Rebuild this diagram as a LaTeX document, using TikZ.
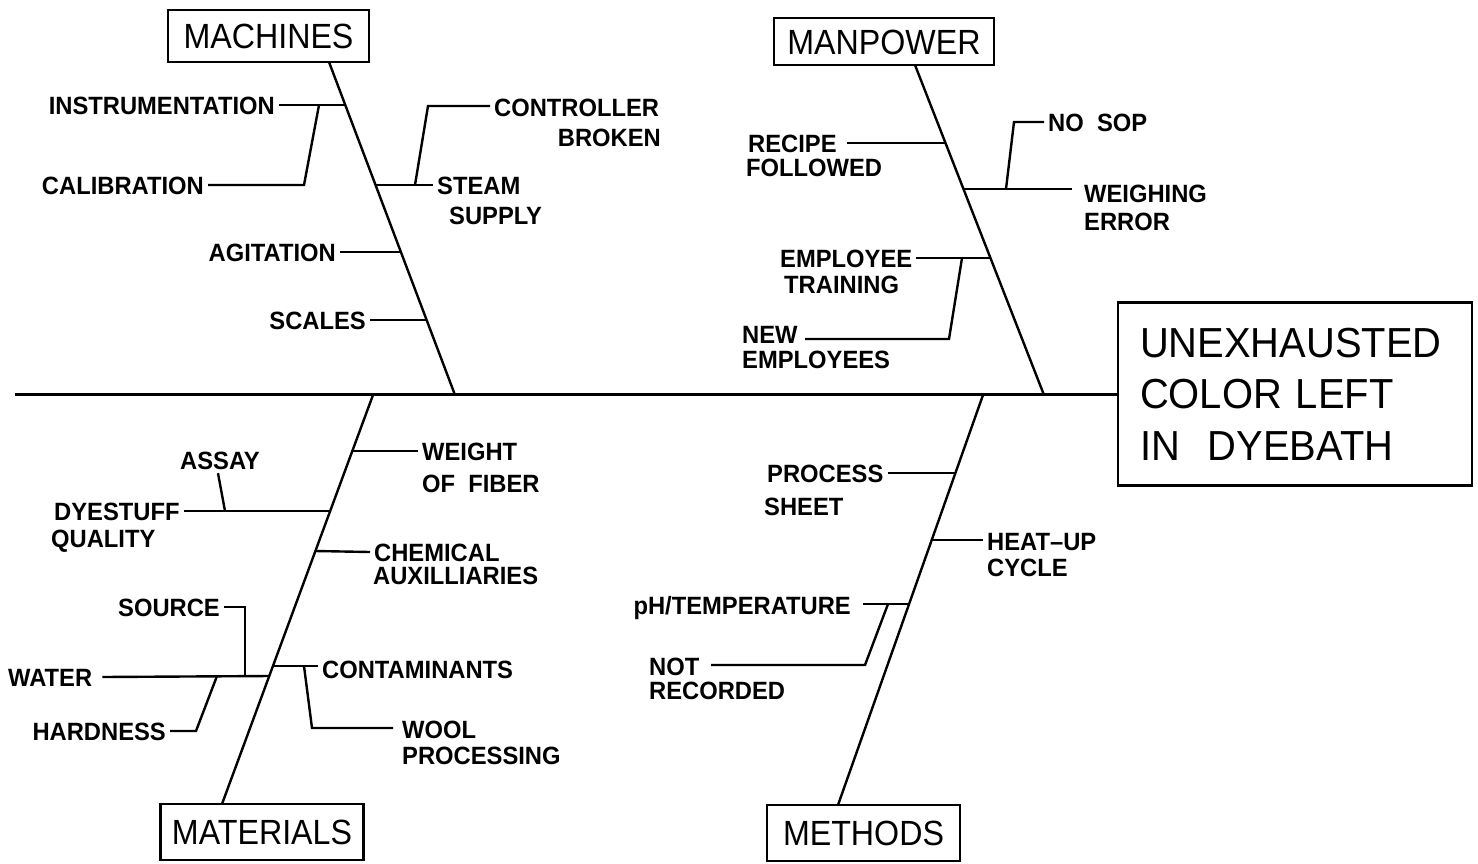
\documentclass[tikz,border=0pt]{standalone}
\usepackage{fontspec}
\newfontfamily\lblfont{Liberation Sans}[FakeStretch=0.95]
\newfontfamily\boxfont{Liberation Sans}[FakeStretch=0.92]
\newfontfamily\effectfont{Liberation Sans}[FakeStretch=0.95]
\begin{document}
\begin{tikzpicture}[x=1pt,y=-1pt,
  wire/.style={line width=2.4pt, line join=miter},
  lbl/.style={inner xsep=4pt, inner ysep=0pt, text height=18pt, text depth=0pt,
    font=\lblfont\bfseries\fontsize{25}{25}\selectfont},
  cat/.style={draw, line width=2.8pt, inner sep=0pt, text height=25pt, text depth=0pt,
    font=\boxfont\fontsize{35}{35}\selectfont},
]
\fill[white] (0,0) rectangle (1478,863);
\useasboundingbox (0,0) rectangle (1478,863);

% ---------- effect box and spine ----------
\node[draw, line width=2.8pt, minimum width=354pt, minimum height=183pt,
      inner xsep=22pt, inner ysep=0pt, text width=310pt, align=left,
      font=\effectfont\fontsize{42}{51.5}\selectfont] (effect) at (1295,394)
  {UNEXHAUSTED\\COLOR LEFT\\IN\ \ DYEBATH};
\coordinate (tail) at (15,394);
\draw[line width=3pt] (tail) -- (effect.west);

% ---------- category boxes ----------
\node[cat, minimum width=201pt, minimum height=52pt] (mach) at (268.5,36) {MACHINES};
\node[cat, minimum width=220pt, minimum height=47pt] (manp) at (884,41.5) {MANPOWER};
\node[cat, minimum width=203pt, minimum height=56pt] (mat)  at (262,832) {MATERIALS};
\node[cat, minimum width=193pt, minimum height=56pt] (meth) at (863.5,833) {METHODS};

% ---------- bones ----------
\coordinate (mA) at (329,62);   \coordinate (mB) at (455,395);
\coordinate (pA) at (915,65);   \coordinate (pB) at (1044,395);
\coordinate (tA) at (222,804);  \coordinate (tB) at (373,395);
\coordinate (hA) at (838,805);  \coordinate (hB) at (983,395);
\draw[wire] (mA) -- (mB);
\draw[wire] (pA) -- (pB);
\draw[wire] (tA) -- (tB);
\draw[wire] (hA) -- (hB);

% ---------- machines ----------
\node[lbl, anchor=east] (instr) at (279,105) {INSTRUMENTATION};
\node[lbl, anchor=east] (calib) at (208,185) {CALIBRATION};
\node[lbl, anchor=east] (agit)  at (340,252) {AGITATION};
\node[lbl, anchor=east] (scal)  at (370,320) {SCALES};
\node[lbl, anchor=west] (steam) at (433,185) {STEAM};
\node[lbl, anchor=west] (suppl) at (445,215) {SUPPLY};
\node[lbl, anchor=west] (ctrl)  at (490,107) {CONTROLLER};
\node[lbl, anchor=east] (brok)  at (665,137) {BROKEN};
\coordinate (m1) at (345.3,105);
\coordinate (m2) at (375.5,185);
\coordinate (m3) at (400.9,252);
\coordinate (m4) at (426.6,320);
\draw[wire] (instr.east) -- (m1);
\draw[wire] (calib.east) -- (304,185) -- (319,105);
\draw[wire] (agit.east) -- (m3);
\draw[wire] (scal.east) -- (m4);
\draw[wire] (m2) -- (steam.west);
\draw[wire] (415,185) -- (428,106) -- (ctrl.west |- 0,106);

% ---------- manpower ----------
\node[lbl, anchor=west] (recip) at (744,143) {RECIPE};
\node[lbl, anchor=west] (follw) at (742,167) {FOLLOWED};
\node[lbl, anchor=west] (nosop) at (1044,122) {NO\ \ SOP};
\node[lbl, anchor=west] (weigh) at (1080,193) {WEIGHING};
\node[lbl, anchor=west] (err)   at (1080,221) {ERROR};
\node[lbl, anchor=west] (emply) at (776,258) {EMPLOYEE};
\node[lbl, anchor=west] (train) at (780,284) {TRAINING};
\node[lbl, anchor=west] (newe)  at (738,334) {NEW};
\node[lbl, anchor=west] (emps)  at (738,359) {EMPLOYEES};
\coordinate (p1) at (945.5,143);
\coordinate (p2) at (963.5,189);
\coordinate (p3) at (990.4,258);
\draw[wire] (recip.east) ++(6,0) -- (p1);
\draw[wire] (p2) -- (1072,189);
\draw[wire] (1006,189) -- (1014,122) -- (nosop.west);
\draw[wire] (emply.east) -- (p3);
\draw[wire] (962,258) -- (949,339) -- (805,339);

% ---------- materials ----------
\node[lbl, anchor=west] (wght)  at (418,451) {WEIGHT};
\node[lbl, anchor=west] (fibr)  at (418,483) {OF\ \ FIBER};
\node[lbl, anchor=west] (dyes)  at (50,511) {DYESTUFF};
\node[lbl, anchor=west] (qual)  at (47,538) {QUALITY};
\node[lbl] (assay) at (220,460) {ASSAY};
\node[lbl, anchor=west] (chem)  at (370,552) {CHEMICAL};
\node[lbl, anchor=west] (aux)   at (369,575) {AUXILLIARIES};
\node[lbl, anchor=east] (src)   at (224,607) {SOURCE};
\node[lbl, anchor=west] (water) at (4,677) {WATER};
\node[lbl, anchor=east] (hard)  at (170,731) {HARDNESS};
\node[lbl, anchor=west] (cont)  at (318,669) {CONTAMINANTS};
\node[lbl, anchor=west] (wool)  at (398,729) {WOOL};
\node[lbl, anchor=west] (proc)  at (398,755) {PROCESSING};
\coordinate (t1) at (352.4,451);
\coordinate (t2) at (330.3,511);
\coordinate (t3) at (315.5,551);
\coordinate (t4) at (273.2,666);
\coordinate (t5) at (269.5,676);
\coordinate (dq) at (225,511);
\draw[wire] (t1) -- (wght.west);
\draw[wire] (dyes.east) -- (t2);
\draw[wire] (assay.south) ++(-2,4) -- (dq);
\draw[wire] (t3) -- (chem.west);
\draw[wire] (water.east) ++(6,0) -- (t5);
\draw[wire] (src.east) -- (245,607) -- (245,676);
\draw[wire] (hard.east) -- (196,731) -- (217,676);
\draw[wire] (t4) -- (cont.west |- 0,666);
\draw[wire] (304,666) -- (312,728) -- (393,728);

% ---------- methods ----------
\node[lbl, anchor=west] (pshet) at (763,473) {PROCESS};
\node[lbl, anchor=west] (sheet) at (760,506) {SHEET};
\node[lbl, anchor=west] (heat)  at (983,541) {HEAT\textendash UP};
\node[lbl, anchor=west] (cycl)  at (983,567) {CYCLE};
\node[lbl, anchor=east] (phte)  at (855,605) {pH/TEMPERATURE};
\node[lbl, anchor=west] (notr)  at (645,666) {NOT};
\node[lbl, anchor=west] (recd)  at (645,690) {RECORDED};
\coordinate (h1) at (955.8,473);
\coordinate (h2) at (931.7,540);
\coordinate (h3) at (909.1,604);
\draw[wire] (pshet.east) -- (h1);
\draw[wire] (h2) -- (heat.west |- 0,540);
\draw[wire] (phte.east |- 0,604) ++(8,0) -- (h3);
\draw[wire] (888,604) -- (865,665) -- (711,665);
\end{tikzpicture}
\end{document}
